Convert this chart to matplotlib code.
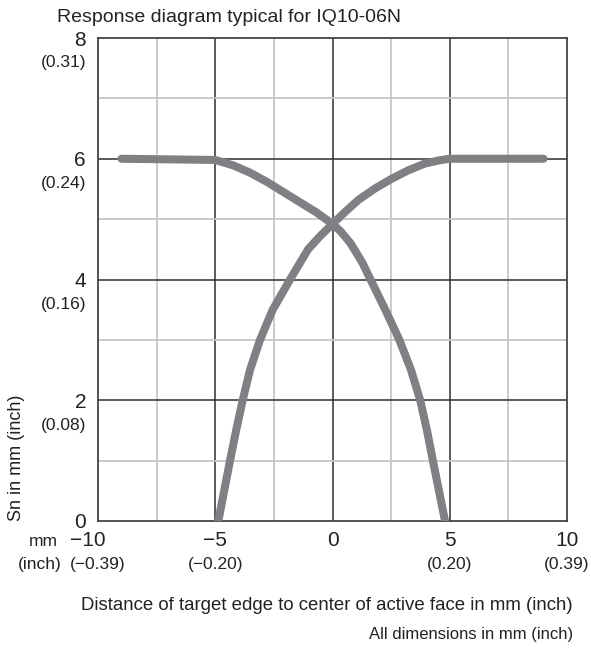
import matplotlib
matplotlib.use("Agg")
import matplotlib.pyplot as plt
import matplotlib.transforms as mtransforms

plt.rcParams['font.family'] = ['Liberation Sans', 'DejaVu Sans']

# Data (x in mm, Sn in mm)
curve1_x = [-9.0, -5.0, -4.23, -3.52, -2.81, -2.10, -1.39, -0.68, 0.0, 0.34, 0.77,
            1.27, 1.62, 2.25, 2.85, 3.35, 3.74, 4.03, 4.28, 4.54, 4.80]
curve1_y = [6.0, 5.98, 5.89, 5.77, 5.62, 5.45, 5.28, 5.11, 4.92, 4.80, 4.60,
            4.28, 4.0, 3.5, 3.0, 2.5, 2.0, 1.5, 1.0, 0.5, 0.0]
curve2_x = [-4.87, -4.62, -4.37, -4.11, -3.83, -3.52, -3.09, -2.55, -1.81, -1.04,
            -0.55, 0.0, 0.54, 1.11, 1.82, 2.53, 3.24, 3.94, 4.5, 5.0, 9.0]
curve2_y = [0.0, 0.5, 1.0, 1.5, 2.0, 2.5, 3.0, 3.5, 4.0, 4.5,
            4.71, 4.92, 5.12, 5.32, 5.51, 5.67, 5.81, 5.92, 5.97, 6.0, 6.0]

x_ticks_mm = [-10, -5, 0, 5, 10]
x_tick_labels = ["\u221210", "\u22125", "0", "5", "10"]
x_ticks_inch = ["(\u22120.39)", "(\u22120.20)", "", "(0.20)", "(0.39)"]
y_ticks_mm = [0, 2, 4, 6, 8]
y_tick_labels = ["0", "2", "4", "6", "8"]
y_ticks_inch = ["", "(0.08)", "(0.16)", "(0.24)", "(0.31)"]

title = "Response diagram typical for IQ10-06N"
xlabel = "Distance of target edge to center of active face in mm (inch)"
note = "All dimensions in mm (inch)"
ylabel = "Sn in mm (inch)"

W, H = 591, 649
fig = plt.figure(figsize=(W / 100, H / 100), dpi=100)
ax = fig.add_axes([98 / W, 1 - 521 / H, (567 - 98) / W, (521 - 38) / H])
ax.set_xlim(-10, 10)
ax.set_ylim(0, 8)

light = "#c6c6c6"
dark = "#2e2e2e"
for gx in [-7.5, -2.5, 2.5, 7.5]:
    ax.axvline(gx, color=light, lw=1.3, zorder=1)
for gx in [-5, 0, 5]:
    ax.axvline(gx, color=dark, lw=1.1, zorder=1)
for gy in [1, 3, 5, 7]:
    ax.axhline(gy, color=light, lw=1.3, zorder=1)
for gy in [2, 4, 6]:
    ax.axhline(gy, color=dark, lw=1.1, zorder=1)

lc = "#7f8083"
ax.plot(curve1_x, curve1_y, color=lc, lw=5.8, solid_capstyle="round",
        solid_joinstyle="round", zorder=3)
ax.plot(curve2_x, curve2_y, color=lc, lw=5.8, solid_capstyle="round",
        solid_joinstyle="round", zorder=3)

for s in ax.spines.values():
    s.set_color("#444444")
    s.set_linewidth(1.3)
ax.set_xticks([])
ax.set_yticks([])

txtc = "#222222"
# y tick labels
ty = mtransforms.blended_transform_factory(ax.transAxes, ax.transData)
for v, lab, inch in zip(y_ticks_mm, y_tick_labels, y_ticks_inch):
    ax.text(0, v, lab, transform=mtransforms.offset_copy(ty, fig=fig, x=-12, y=-2, units="dots"),
            ha="right", va="center", fontsize=15, color=txtc)
    if inch:
        ax.text(0, v, inch, transform=mtransforms.offset_copy(ty, fig=fig, x=-12, y=-25, units="dots"),
                ha="right", va="center", fontsize=12.5, color=txtc)

# x tick labels
tx = mtransforms.blended_transform_factory(ax.transData, ax.transAxes)
for v, lab, inch in zip(x_ticks_mm, x_tick_labels, x_ticks_inch):
    dx = -10 if v == -10 else 0
    ax.text(v, 0, lab, transform=mtransforms.offset_copy(tx, fig=fig, x=dx, y=-20, units="dots"),
            ha="center", va="center", fontsize=15, color=txtc)
    if inch:
        ax.text(v, 0, inch, transform=mtransforms.offset_copy(tx, fig=fig, x=0, y=-43, units="dots"),
                ha="center", va="center", fontsize=12.5, color=txtc)

fig.text(43 / W, 1 - 542 / H, "mm", ha="center", va="center", fontsize=12.5, color=txtc)
fig.text(40 / W, 1 - 564 / H, "(inch)", ha="center", va="center", fontsize=12.5, color=txtc)

fig.text(57 / W, 1 - 18 / H, title, ha="left", va="center", fontsize=14, color=txtc)
fig.text(573 / W, 1 - 605 / H, xlabel, ha="right", va="center", fontsize=13.4, color=txtc)
fig.text(573 / W, 1 - 634 / H, note, ha="right", va="center", fontsize=12, color=txtc)
fig.text(17 / W, 1 - 521 / H, ylabel, ha="center", va="bottom", rotation=90, fontsize=13, color=txtc)

fig.savefig("out.png", dpi=100, facecolor="white")
